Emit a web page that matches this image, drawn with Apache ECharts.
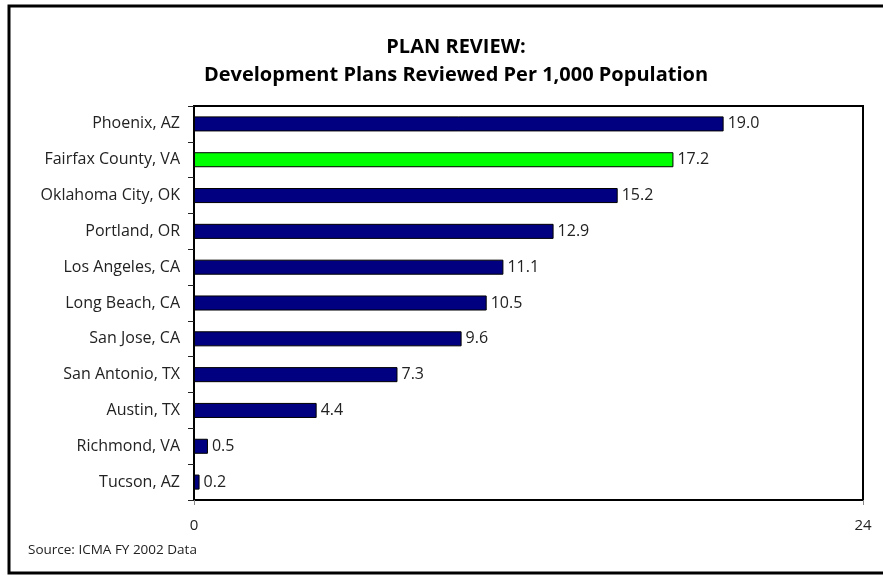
<!DOCTYPE html>
<html>
<head>
<meta charset="utf-8">
<style>
  html, body { margin: 0; padding: 0; background: #fff; }
  #chart { width: 883px; height: 575px; }
</style>
<script src="https://cdn.jsdelivr.net/npm/echarts@6/dist/echarts.min.js"></script>
</head>
<body>
<div id="chart"></div>
<script>
// data, bottom-to-top order for the category axis
let cities = [
  'Tucson, AZ', 'Richmond, VA', 'Austin, TX', 'San Antonio, TX', 'San Jose, CA',
  'Long Beach, CA', 'Los Angeles, CA', 'Portland, OR', 'Oklahoma City, OK',
  'Fairfax County, VA', 'Phoenix, AZ'
]
let plansPer1000 = [0.2, 0.5, 4.4, 7.3, 9.6, 10.5, 11.1, 12.9, 15.2, 17.2, 19.0]
let highlightCity = 'Fairfax County, VA'
let xTicks = [0, 24]

let chart = echarts.init(document.getElementById('chart'))
let font = '"Open Sans", Lato, sans-serif'

let option = {
  backgroundColor: '#fff',
  animation: false,
  title: {
    text: 'PLAN REVIEW:\nDevelopment Plans Reviewed Per 1,000 Population',
    left: 451,
    textAlign: 'center',
    top: 28,
    textStyle: {
      fontFamily: font,
      fontSize: 20,
      fontWeight: 'bold',
      color: '#000',
      lineHeight: 28
    }
  },
  graphic: [
    {
      type: 'rect',
      shape: { x: 9, y: 6, width: 900, height: 567 },
      style: { fill: 'none', stroke: '#000', lineWidth: 3 },
      z: 10
    },
    {
      type: 'text',
      left: 28,
      top: 543,
      style: { text: 'Source: ICMA FY 2002 Data', fontFamily: font, fontSize: 13.5, fill: '#222' }
    }
  ],
  grid: {
    left: 194,
    right: 20,
    top: 106,
    bottom: 75,
    containLabel: false,
    show: true,
    borderColor: '#000',
    borderWidth: 2
  },
  xAxis: {
    type: 'value',
    min: xTicks[0],
    max: xTicks[1],
    interval: xTicks[1] - xTicks[0],
    splitLine: { show: false },
    axisLine: { show: false },
    axisTick: { show: true, length: 5, lineStyle: { color: '#888' } },
    axisLabel: { margin: 18, fontFamily: font, fontSize: 15, color: '#222' }
  },
  yAxis: {
    type: 'category',
    data: cities,
    axisLine: { show: true, lineStyle: { color: '#000', width: 2 } },
    axisTick: { show: true, length: 6, lineStyle: { color: '#222' } },
    axisLabel: { margin: 14, fontFamily: font, fontSize: 16, color: '#222' }
  },
  series: [{
    type: 'bar',
    data: plansPer1000.map((v, i) => ({
      value: v,
      itemStyle: { color: cities[i] === highlightCity ? '#00ff00' : '#000080' }
    })),
    barWidth: '42%',
    itemStyle: { borderColor: '#000', borderWidth: 1 },
    label: {
      show: true,
      position: 'right',
      distance: 4,
      formatter: p => p.value.toFixed(1),
      fontFamily: font,
      fontSize: 16,
      color: '#222'
    }
  }]
}
chart.setOption(option)
</script>
</body>
</html>
